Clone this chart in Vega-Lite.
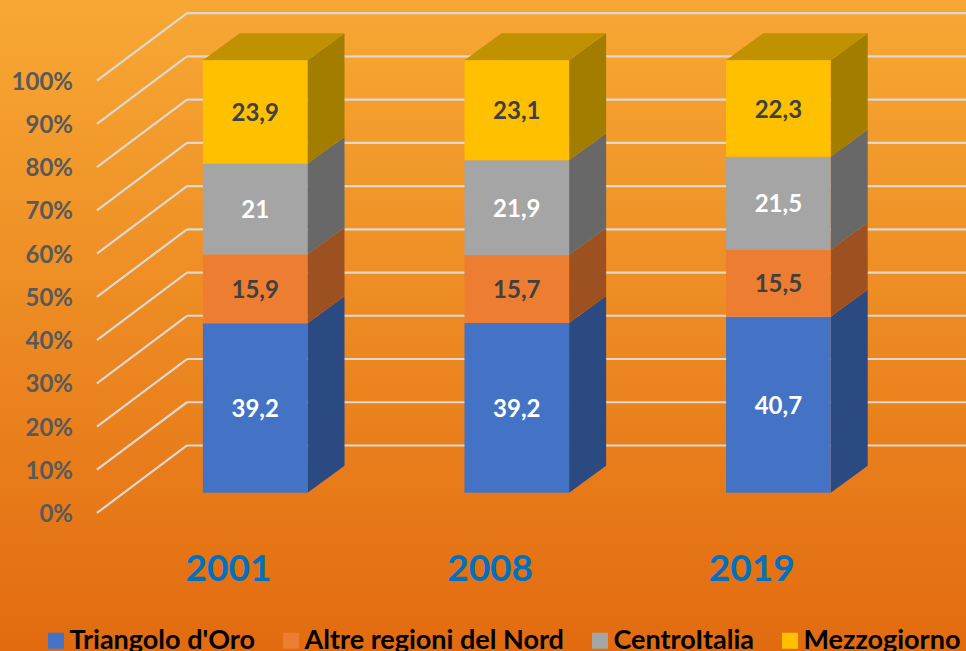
{
  "$schema": "https://vega.github.io/schema/vega-lite/v6.json",
  "width": 966, "height": 651, "padding": 0,
  "autosize": {"type": "none", "contains": "padding"},
  "config": {"view": {"stroke": null}, "axis": {"disable": true}, "font": "Lato"},
  "datasets": {
    "bars": [
      {"year": "2001", "region": "Triangolo d'Oro", "value": 39.2},
      {"year": "2001", "region": "Altre regioni del Nord", "value": 15.9},
      {"year": "2001", "region": "CentroItalia", "value": 21},
      {"year": "2001", "region": "Mezzogiorno", "value": 23.9},
      {"year": "2008", "region": "Triangolo d'Oro", "value": 39.2},
      {"year": "2008", "region": "Altre regioni del Nord", "value": 15.7},
      {"year": "2008", "region": "CentroItalia", "value": 21.9},
      {"year": "2008", "region": "Mezzogiorno", "value": 23.1},
      {"year": "2019", "region": "Triangolo d'Oro", "value": 40.7},
      {"year": "2019", "region": "Altre regioni del Nord", "value": 15.5},
      {"year": "2019", "region": "CentroItalia", "value": 21.5},
      {"year": "2019", "region": "Mezzogiorno", "value": 22.3}
    ],
    "levels": [{"level": 0}, {"level": 10}, {"level": 20}, {"level": 30}, {"level": 40}, {"level": 50}, {"level": 60}, {"level": 70}, {"level": 80}, {"level": 90}, {"level": 100}],
    "years": [{"year": "2001", "pos": 0}, {"year": "2008", "pos": 1}, {"year": "2019", "pos": 2}]
  },
  "layer": [
    {
      "data": {"values": [{"a": 1}]},
      "mark": {"type": "rect", "color": {"gradient": "linear", "x1": 0, "y1": 0, "x2": 0, "y2": 1, "stops": [{"offset": 0, "color": "#F7A834"}, {"offset": 1, "color": "#E26B10"}]}},
      "encoding": {
        "x": {"datum": -0.9755, "type": "quantitative", "scale": {"domain": [-0.9755, 2.7172], "nice": false, "zero": false}},
        "x2": {"datum": 2.7172},
        "y": {"datum": -36.61, "type": "quantitative", "scale": {"domain": [-36.61, 113.95], "nice": false, "zero": false}},
        "y2": {"datum": 113.95}
      }
    },
    {
      "data": {"name": "levels"},
      "transform": [
        {"calculate": "datum.level - 4.69", "as": "yf"},
        {"calculate": "datum.level + 10.92", "as": "yb"},
        {"calculate": "-0.605", "as": "xf"},
        {"calculate": "-0.2607", "as": "xb"}
      ],
      "mark": {"type": "rule", "stroke": "#DDD9D2", "strokeWidth": 2.2},
      "encoding": {
        "x": {"field": "xf", "type": "quantitative", "scale": {"domain": [-0.9755, 2.7172], "nice": false, "zero": false}},
        "x2": {"field": "xb"},
        "y": {"field": "yf", "type": "quantitative", "scale": {"domain": [-36.61, 113.95], "nice": false, "zero": false}},
        "y2": {"field": "yb"}
      }
    },
    {
      "data": {"name": "levels"},
      "transform": [
        {"calculate": "datum.level + 10.92", "as": "yb"},
        {"calculate": "-0.2607", "as": "xb"},
        {"calculate": "2.7172", "as": "xe"}
      ],
      "mark": {"type": "rule", "stroke": "#DDD9D2", "strokeWidth": 2.2},
      "encoding": {
        "x": {"field": "xb", "type": "quantitative", "scale": {"domain": [-0.9755, 2.7172], "nice": false, "zero": false}},
        "x2": {"field": "xe"},
        "y": {"field": "yb", "type": "quantitative", "scale": {"domain": [-36.61, 113.95], "nice": false, "zero": false}}
      }
    },
    {
      "data": {"name": "levels"},
      "transform": [
        {"calculate": "datum.level - 4.69", "as": "yf"},
        {"calculate": "-0.6965", "as": "xl"},
        {"calculate": "datum.level + '%'", "as": "lab"}
      ],
      "mark": {"type": "text", "align": "right", "baseline": "middle", "dy": 2, "font": "Lato", "fontWeight": "bold", "fontSize": 24, "color": "#595959"},
      "encoding": {
        "x": {"field": "xl", "type": "quantitative", "scale": {"domain": [-0.9755, 2.7172], "nice": false, "zero": false}},
        "y": {"field": "yf", "type": "quantitative", "scale": {"domain": [-36.61, 113.95], "nice": false, "zero": false}},
        "text": {"field": "lab"}
      }
    },
    {
      "data": {"name": "bars"},
      "transform": [
        {"joinaggregate": [{"op": "sum", "field": "value", "as": "total"}], "groupby": ["year"]},
        {"window": [{"op": "sum", "field": "value", "as": "cum"}], "groupby": ["year"]},
        {"calculate": "datum.cum / datum.total * 100", "as": "hi"},
        {"calculate": "(datum.cum - datum.value) / datum.total * 100", "as": "lo"},
        {"calculate": "indexof(['2001','2008','2019'], datum.year)", "as": "pos"},
        {"calculate": "[0, 1]", "as": "d"},
        {"flatten": ["d"]},
        {"calculate": "datum.pos + 0.2 + datum.d * 0.1415", "as": "xs"},
        {"calculate": "datum.lo + datum.d * 6.24", "as": "ylo"},
        {"calculate": "datum.hi + datum.d * 6.24", "as": "yhi"}
      ],
      "mark": {"type": "area", "orient": "vertical", "interpolate": "linear"},
      "encoding": {
        "x": {"field": "xs", "type": "quantitative", "scale": {"domain": [-0.9755, 2.7172], "nice": false, "zero": false}},
        "y": {"field": "ylo", "type": "quantitative", "scale": {"domain": [-36.61, 113.95], "nice": false, "zero": false}},
        "y2": {"field": "yhi"},
        "detail": {"field": "year"},
        "color": {"field": "region", "type": "nominal", "legend": null, "scale": {"domain": ["Triangolo d'Oro", "Altre regioni del Nord", "CentroItalia", "Mezzogiorno"], "range": ["#2B4A82", "#9E5120", "#686868", "#A37D00"]}}
      }
    },
    {
      "data": {"name": "bars"},
      "transform": [
        {"filter": "datum.region === 'Mezzogiorno'"},
        {"calculate": "indexof(['2001','2008','2019'], datum.year)", "as": "pos"},
        {"calculate": "[0, 1]", "as": "d"},
        {"flatten": ["d"]},
        {"calculate": "datum.pos - 0.2 + datum.d * 0.1415", "as": "xa"},
        {"calculate": "datum.pos + 0.2 + datum.d * 0.1415", "as": "xb"},
        {"calculate": "100 + datum.d * 6.24", "as": "yt"}
      ],
      "mark": {"type": "area", "orient": "horizontal", "color": "#C09100"},
      "encoding": {
        "x": {"field": "xa", "type": "quantitative", "scale": {"domain": [-0.9755, 2.7172], "nice": false, "zero": false}},
        "x2": {"field": "xb"},
        "y": {"field": "yt", "type": "quantitative", "scale": {"domain": [-36.61, 113.95], "nice": false, "zero": false}},
        "detail": {"field": "year"}
      }
    },
    {
      "data": {"name": "bars"},
      "transform": [
        {"joinaggregate": [{"op": "sum", "field": "value", "as": "total"}], "groupby": ["year"]},
        {"window": [{"op": "sum", "field": "value", "as": "cum"}], "groupby": ["year"]},
        {"calculate": "datum.cum / datum.total * 100", "as": "hi"},
        {"calculate": "(datum.cum - datum.value) / datum.total * 100", "as": "lo"},
        {"calculate": "indexof(['2001','2008','2019'], datum.year)", "as": "pos"},
        {"calculate": "datum.pos - 0.2", "as": "x0"},
        {"calculate": "datum.pos + 0.2", "as": "x1"}
      ],
      "mark": {"type": "rect"},
      "encoding": {
        "x": {"field": "x0", "type": "quantitative", "scale": {"domain": [-0.9755, 2.7172], "nice": false, "zero": false}},
        "x2": {"field": "x1"},
        "y": {"field": "lo", "type": "quantitative", "scale": {"domain": [-36.61, 113.95], "nice": false, "zero": false}},
        "y2": {"field": "hi"},
        "color": {
          "field": "region", "type": "nominal",
          "scale": {"domain": ["Triangolo d'Oro", "Altre regioni del Nord", "CentroItalia", "Mezzogiorno"], "range": ["#4472C4", "#ED7D31", "#A5A5A5", "#FFC000"]},
          "legend": {"title": null, "orient": "none", "legendX": 42.5, "legendY": 627, "direction": "horizontal", "columns": 4, "symbolType": "square", "symbolSize": 256, "symbolStrokeWidth": 0, "labelFont": "Lato", "labelFontWeight": "bold", "labelFontSize": 27, "labelColor": "#000000", "labelLimit": 400, "columnPadding": 22, "labelOffset": 0, "padding": 0}
        }
      }
    },
    {
      "data": {"name": "bars"},
      "transform": [
        {"joinaggregate": [{"op": "sum", "field": "value", "as": "total"}], "groupby": ["year"]},
        {"window": [{"op": "sum", "field": "value", "as": "cum"}], "groupby": ["year"]},
        {"calculate": "(datum.cum - datum.value / 2) / datum.total * 100", "as": "mid"},
        {"calculate": "indexof(['2001','2008','2019'], datum.year)", "as": "pos"},
        {"calculate": "replace(toString(datum.value), '.', ',')", "as": "lab"},
        {"filter": "datum.region === 'Triangolo d\\'Oro' || datum.region === 'CentroItalia'"}
      ],
      "mark": {"type": "text", "font": "Lato", "fontWeight": "bold", "fontSize": 24, "color": "#FFFFFF", "baseline": "middle", "dy": 2},
      "encoding": {
        "x": {"field": "pos", "type": "quantitative", "scale": {"domain": [-0.9755, 2.7172], "nice": false, "zero": false}},
        "y": {"field": "mid", "type": "quantitative", "scale": {"domain": [-36.61, 113.95], "nice": false, "zero": false}},
        "text": {"field": "lab"}
      }
    },
    {
      "data": {"name": "bars"},
      "transform": [
        {"joinaggregate": [{"op": "sum", "field": "value", "as": "total"}], "groupby": ["year"]},
        {"window": [{"op": "sum", "field": "value", "as": "cum"}], "groupby": ["year"]},
        {"calculate": "(datum.cum - datum.value / 2) / datum.total * 100", "as": "mid"},
        {"calculate": "indexof(['2001','2008','2019'], datum.year)", "as": "pos"},
        {"calculate": "replace(toString(datum.value), '.', ',')", "as": "lab"},
        {"filter": "datum.region === 'Altre regioni del Nord' || datum.region === 'Mezzogiorno'"}
      ],
      "mark": {"type": "text", "font": "Lato", "fontWeight": "bold", "fontSize": 24, "color": "#404040", "baseline": "middle", "dy": 2},
      "encoding": {
        "x": {"field": "pos", "type": "quantitative", "scale": {"domain": [-0.9755, 2.7172], "nice": false, "zero": false}},
        "y": {"field": "mid", "type": "quantitative", "scale": {"domain": [-36.61, 113.95], "nice": false, "zero": false}},
        "text": {"field": "lab"}
      }
    },
    {
      "data": {"name": "years"},
      "transform": [
        {"calculate": "datum.pos - 0.102", "as": "xl"},
        {"calculate": "-17.41", "as": "yl"}
      ],
      "mark": {"type": "text", "font": "Lato", "fontWeight": "bold", "fontSize": 37, "color": "#0070C0", "baseline": "middle", "dy": 2},
      "encoding": {
        "x": {"field": "xl", "type": "quantitative", "scale": {"domain": [-0.9755, 2.7172], "nice": false, "zero": false}},
        "y": {"field": "yl", "type": "quantitative", "scale": {"domain": [-36.61, 113.95], "nice": false, "zero": false}},
        "text": {"field": "year"}
      }
    }
  ],
  "resolve": {"scale": {"color": "independent"}}
}
